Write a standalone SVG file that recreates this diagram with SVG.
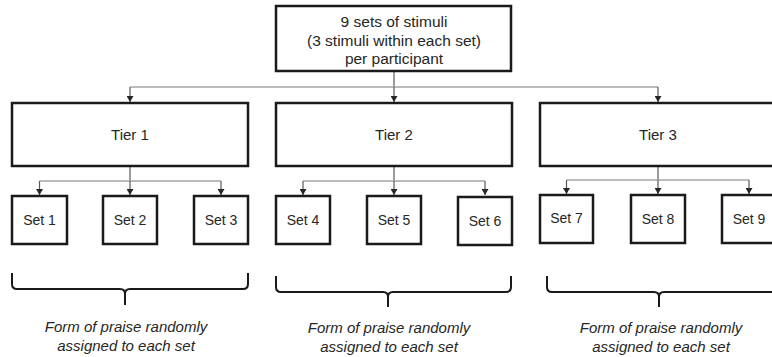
<svg xmlns="http://www.w3.org/2000/svg" width="772" height="357" viewBox="0 0 772 357">
<style>
.box{fill:#fff;stroke:#1a1a1a;stroke-width:2.5}
.t{font-family:"Liberation Sans",Arial,sans-serif;fill:#262626;text-anchor:middle}
.top{font-size:15.5px}
.tier{font-size:15px}
.set{font-size:14px}
.note{font-family:"Liberation Sans",Arial,sans-serif;font-style:italic;font-size:15px;fill:#262626;text-anchor:middle}
.h{fill:none;stroke:#a6a6a6;stroke-width:1.3}
.v{fill:none;stroke:#595959;stroke-width:1.2}
.brace{fill:none;stroke:#1a1a1a;stroke-width:2}
</style>
<defs>
<marker id="arr" markerUnits="userSpaceOnUse" markerWidth="8" markerHeight="7" refX="4" refY="6" orient="auto-start-reverse" viewBox="0 0 8 7">
<path d="M0,0 L8,0 L4,6 Z" fill="#262626" transform="rotate(-90 4 3.5) translate(0.5 -0.5)"/>
</marker>
<marker id="dn" markerUnits="userSpaceOnUse" markerWidth="7" markerHeight="6" refX="3.5" refY="6" viewBox="0 0 7 6">
<path d="M0,0 L7,0 L3.5,6 Z" fill="#262626"/>
</marker>
</defs>
<g id="connectors">
<line class="v" x1="394" y1="71" x2="394" y2="87"/>
<line class="h" x1="130" y1="87" x2="658" y2="87"/>
<line class="v" x1="130" y1="87" x2="130" y2="102" marker-end="url(#dn)"/>
<line class="v" x1="394" y1="87" x2="394" y2="102" marker-end="url(#dn)"/>
<line class="v" x1="658" y1="87" x2="658" y2="102" marker-end="url(#dn)"/>
<line class="v" x1="130" y1="166" x2="130" y2="181"/>
<line class="h" x1="39.5" y1="181" x2="221" y2="181"/>
<line class="v" x1="39.5" y1="181" x2="39.5" y2="195" marker-end="url(#dn)"/>
<line class="v" x1="130" y1="181" x2="130" y2="195" marker-end="url(#dn)"/>
<line class="v" x1="221" y1="181" x2="221" y2="195" marker-end="url(#dn)"/>
<line class="v" x1="394" y1="166" x2="394" y2="181"/>
<line class="h" x1="303" y1="181" x2="485" y2="181"/>
<line class="v" x1="303" y1="181" x2="303" y2="195" marker-end="url(#dn)"/>
<line class="v" x1="394" y1="181" x2="394" y2="195" marker-end="url(#dn)"/>
<line class="v" x1="485" y1="181" x2="485" y2="195" marker-end="url(#dn)"/>
<line class="v" x1="658" y1="166" x2="658" y2="180"/>
<line class="h" x1="566.5" y1="180" x2="749" y2="180"/>
<line class="v" x1="566.5" y1="180" x2="566.5" y2="194" marker-end="url(#dn)"/>
<line class="v" x1="658" y1="180" x2="658" y2="194" marker-end="url(#dn)"/>
<line class="v" x1="749" y1="180" x2="749" y2="194" marker-end="url(#dn)"/>
</g>
<g id="root">
<rect class="box" x="276" y="6" width="235" height="65"/>
<text class="t top" x="394" y="27">9 sets of stimuli</text>
<text class="t top" x="394" y="46">(3 stimuli within each set)</text>
<text class="t top" x="394" y="64">per participant</text>
</g>
<g id="tier1"><rect class="box" x="12" y="103" width="236" height="63"/><text class="t tier" x="130" y="140">Tier 1</text></g>
<g id="tier2"><rect class="box" x="276" y="103" width="236" height="63"/><text class="t tier" x="394" y="140">Tier 2</text></g>
<g id="tier3"><rect class="box" x="540" y="103" width="236" height="63"/><text class="t tier" x="658" y="140">Tier 3</text></g>
<g id="set1"><rect class="box" x="12" y="196" width="55" height="48"/><text class="t set" x="39.5" y="225">Set 1</text></g>
<g id="set2"><rect class="box" x="103" y="196" width="54" height="48"/><text class="t set" x="130" y="225">Set 2</text></g>
<g id="set3"><rect class="box" x="194" y="196" width="54" height="48"/><text class="t set" x="221" y="225">Set 3</text></g>
<g id="set4"><rect class="box" x="276" y="196" width="54" height="48"/><text class="t set" x="303" y="225">Set 4</text></g>
<g id="set5"><rect class="box" x="367" y="196" width="54" height="48"/><text class="t set" x="394" y="225">Set 5</text></g>
<g id="set6"><rect class="box" x="458" y="197" width="54" height="48"/><text class="t set" x="485" y="226">Set 6</text></g>
<g id="set7"><rect class="box" x="540" y="195" width="53" height="48"/><text class="t set" x="566.5" y="223">Set 7</text></g>
<g id="set8"><rect class="box" x="631" y="195" width="54" height="48"/><text class="t set" x="658" y="224">Set 8</text></g>
<g id="set9"><rect class="box" x="722" y="195" width="54" height="48"/><text class="t set" x="749" y="224">Set 9</text></g>
<g id="brace1">
<path class="brace" d="M12,273 L12,284 Q12,289 17,289 L120,289 Q125,289 125,294 L125,305 M125,294 Q125,289 130,289 L243,289 Q248,289 248,284 L248,273"/>
<text class="note" x="126" y="332">Form of praise randomly</text>
<text class="note" x="126" y="351">assigned to each set</text>
</g>
<g id="brace2">
<path class="brace" d="M276,276 L276,287 Q276,292 281,292 L383,292 Q388,292 388,297 L388,307 M388,297 Q388,292 393,292 L506,292 Q511,292 511,287 L511,276"/>
<text class="note" x="389" y="333">Form of praise randomly</text>
<text class="note" x="389" y="352">assigned to each set</text>
</g>
<g id="brace3">
<path class="brace" d="M547,276 L547,287 Q547,292 552,292 L654,292 Q659,292 659,297 L659,307 M659,297 Q659,292 664,292 L776,292"/>
<text class="note" x="661" y="333">Form of praise randomly</text>
<text class="note" x="661" y="352">assigned to each set</text>
</g>
</svg>
